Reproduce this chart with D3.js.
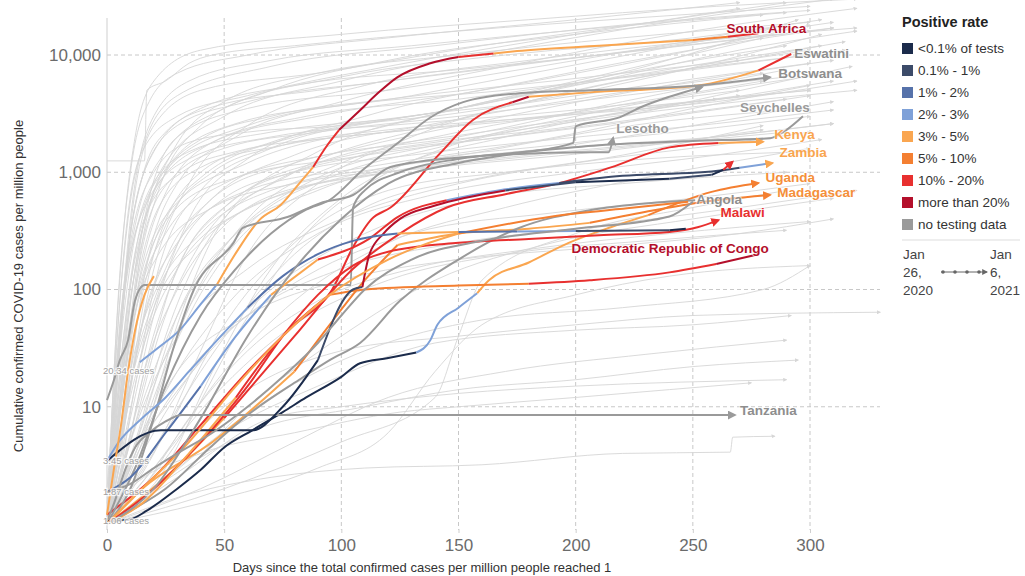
<!DOCTYPE html>
<html lang="en">
<head>
  <meta charset="UTF-8">
  <title>Cumulative confirmed COVID-19 cases per million people</title>
  <script src="https://d3js.org/d3.v7.min.js"></script>
  <style>
    body {
      margin: 0;
      background: #fff;
      font-family: "Liberation Sans", Arial, sans-serif;
    }
    .tick text {
      font-family: "Liberation Sans", Arial, sans-serif;
    }
  </style>
</head>
<body>
  <svg id="chart" width="1025" height="576"></svg>

  <script>
    // ---- data ----
    const xTickValues = [0, 50, 100, 150, 200, 250, 300];
    const yTickValues = [10, 100, 1000, 10000];

    const rateLabels = ["<0.1% of tests", "0.1% - 1%", "1% - 2%", "2% - 3%", "3% - 5%",
                        "5% - 10%", "10% - 20%", "more than 20%", "no testing data"];
    const rateColors = ["#1b2b4b", "#3c4b69", "#5672aa", "#7fa1d8", "#faa650",
                        "#f47f31", "#e8302f", "#b40f2b", "#9a9a9a"];

    // starting values written at the left edge
    const startValues = [20.34, 3.45, 1.87, 1.06];

    // other countries, drawn light grey: [day, cases per million]
    const otherCountries = [
      [[0,1],[4,30],[8,300],[15,1500],[30,3000],[60,4500],[120,8000],[200,15000],[270,25000]],
      [[0,1],[6,20],[12,200],[25,1200],[50,3000],[100,6000],[180,12000],[260,22000],[310,30000]],
      [[0,1],[8,10],[15,100],[30,800],[55,2000],[100,4000],[170,8000],[250,16000],[320,25000]],
      [[0,1.5],[5,10],[12,150],[22,800],[45,1800],[90,3000],[160,5000],[240,10000],[300,18000]],
      [[0,1],[10,8],[20,60],[35,400],[60,1300],[110,3000],[180,6000],[260,12000],[310,17000]],
      [[0,1],[7,15],[14,120],[28,500],[60,1200],[120,2500],[200,6000],[280,14000]],
      [[0,1],[12,5],[25,40],[45,300],[80,1000],[140,2500],[220,6000],[300,11000]],
      [[0,1],[9,12],[20,200],[40,1000],[70,1800],[150,3500],[230,8000],[295,20000]],
      [[0,1],[15,5],[30,50],[50,400],[90,1500],[150,3500],[230,7000],[305,12000]],
      [[0,1],[5,5],[12,60],[25,300],[50,800],[100,1500],[170,3000],[250,6000],[310,9000]],
      [[0,1.2],[8,25],[16,400],[30,2000],[60,3500],[120,5000],[200,9000],[280,17000]],
      [[0,1],[20,4],[40,30],[60,200],[90,800],[130,2000],[200,5000],[270,9000],[315,13000]],
      [[0,1],[6,40],[11,500],[20,2500],[40,5000],[90,7000],[160,12000],[240,20000],[290,28000]],
      [[0,1],[10,20],[25,150],[45,600],[80,1200],[150,2000],[220,4000],[290,7500]],
      [[0,1],[3,8],[9,120],[18,700],[35,1500],[70,2200],[130,3000],[200,5500],[280,12000],[320,16000]],
      [[0,1],[12,15],[22,150],[40,700],[70,1600],[120,2800],[180,4000],[240,7000],[305,15000]],
      [[0,1],[25,3],[45,20],[70,150],[100,600],[140,1500],[200,3000],[260,5000],[310,7000]],
      [[0,1],[7,6],[15,50],[30,250],[60,700],[110,1100],[180,1800],[250,3500],[300,5500]],
      [[0,2],[5,30],[10,250],[20,1000],[35,1800],[60,2200],[100,2500],[150,3500],[220,7000],[290,12000]],
      [[0,1250],[16,1250],[17,5000],[25,6000],[35,8500],[45,10000],[80,12000],[150,16000],[230,21000],[300,26000]],
      [[0,1],[5,100],[10,1000],[18,4000],[30,7000],[60,10000],[120,14000],[200,20000],[270,28000]],
      [[0,1],[4,15],[10,300],[20,1500],[40,3500],[80,5500],[150,7500],[230,11000],[300,16000]],
      [[0,1],[13,10],[28,120],[50,500],[85,1100],[140,1800],[200,2500],[260,4500],[318,8000]],
      [[0,1],[18,8],[35,70],[60,400],[100,1200],[150,2200],[210,3500],[280,6000]],
      [[0,1],[30,5],[55,40],[85,300],[120,1000],[170,2000],[230,3500],[300,5000]],
      [[0,1],[20,3],[50,20],[80,80],[120,250],[170,500],[230,900],[300,1600]],
      [[0,1],[15,4],[40,25],[70,100],[110,300],[160,600],[220,800],[290,1000]],
      [[0,1],[25,2],[60,10],[100,40],[140,120],[190,250],[250,400],[310,600]],
      [[0,1],[10,3],[30,15],[60,60],[100,150],[150,250],[210,350],[270,500],[320,700]],
      [[0,1],[30,3],[70,12],[110,30],[160,55],[220,70],[280,100],[300,160]],
      [[0,1],[20,2],[50,6],[90,15],[140,35],[200,45],[250,50],[292,60]],
      [[0,1],[40,2],[80,5],[120,12],[170,20],[230,28],[290,37]],
      [[0,1],[35,1.8],[70,2.5],[110,3],[160,3.2],[220,4],[266,4.1],[267,5.5],[285,5.6]],
      [[0,1],[20,2],[60,6],[110,10],[150,14],[200,17],[250,22],[295,25]],
      [[0,1],[30,2.5],[70,8],[100,10],[150,13],[200,15],[290,17]],
      [[0,1],[20,2.5],[50,10],[100,30],[150,40],[200,50],[250,60],[330,64]],
      [[0,1],[10,5],[30,40],[60,150],[100,400],[150,800],[200,1200],[260,1700],[300,2200]],
      [[0,1],[15,3],[40,20],[80,200],[110,500],[160,900],[220,1400],[280,2500]],
      [[0,1],[50,2],[100,5],[140,12],[150,40],[160,120],[200,300],[250,500],[290,700]],
      [[0,1],[40,1.5],[90,3],[120,6],[140,20],[160,50],[200,90],[240,130],[300,160]],
      [[0,1],[10,2],[40,4],[80,6],[125,9],[150,10],[200,12],[240,14],[275,16]],
      [[0,1],[25,6],[50,50],[80,250],[120,700],[170,1000],[230,1300],[300,1500]],
      [[0,1],[8,10],[20,70],[40,250],[70,600],[120,1000],[180,1500],[250,2500],[310,4000]],
      [[0,1],[12,7],[30,60],[55,300],[90,900],[140,1700],[200,2700],[270,4000],[320,5000]],
      [[0,1],[5,4],[15,30],[30,150],[60,500],[100,900],[160,1500],[230,2600],[300,3500]],
      [[0,1],[3,10],[7,80],[14,400],[28,1200],[60,2500],[130,4500],[210,9000],[290,18000]],
      [[0,1],[5,8],[11,50],[20,250],[40,900],[80,2000],[150,3200],[230,5500],[300,8500]],
      [[0,1],[6,5],[14,40],[26,200],[45,600],[80,1400],[140,2600],[210,4500],[280,7000]],
      [[0,1],[4,20],[9,150],[18,600],[35,1300],[70,2000],[130,2600],[200,3400],[270,5000]],
      [[0,1],[8,4],[18,30],[32,180],[55,600],[95,1300],[160,2200],[240,3600],[310,6000]],
      [[0,1],[2,5],[6,60],[12,350],[25,1500],[50,3500],[100,6500],[170,10000],[250,14000],[305,20000]],
      [[0,1],[10,5],[22,40],[40,250],[70,800],[110,1400],[170,2000],[240,3000],[300,4500]],
      [[0,1],[14,6],[30,60],[55,300],[90,700],[130,1200],[190,1700],[260,2400],[300,3000]],
      [[0,1],[5,3],[10,15],[20,80],[40,300],[70,700],[120,1100],[190,1600],[260,2000],[310,2600]],
      [[0,1],[3,4],[8,30],[16,150],[30,500],[55,900],[100,1300],[160,1900],[230,2900],[290,4200]],
      [[0,1],[9,3],[20,15],[38,90],[60,350],[95,900],[140,1600],[200,2800],[270,4500]],
      [[0,1],[4,6],[10,40],[22,200],[45,500],[80,800],[140,1100],[210,1500],[280,2300]],
      [[0,1],[6,10],[13,100],[24,600],[45,1800],[85,3000],[150,4200],[220,6500],[300,10000]],
      [[0,1],[3,12],[8,150],[15,900],[30,2500],[60,4000],[120,6000],[190,9000],[260,13000],[310,17000]],
      [[0,1],[7,3],[16,20],[30,100],[50,350],[80,700],[120,1000],[170,1300],[230,1700],[290,2200]],
      [[0,1],[2,8],[5,60],[9,400],[16,1800],[30,4500],[70,8000],[140,12000],[220,18000],[300,24000]],
      [[0,1],[4,6],[9,60],[16,300],[28,900],[50,1600],[90,2200],[150,3000],[220,4500],[290,6500]],
      [[0,1],[3,3],[7,20],[13,120],[22,500],[40,1100],[75,1700],[130,2300],[200,3200],[260,4200]],
      [[0,1],[5,15],[10,120],[18,500],[32,1000],[55,1500],[100,2000],[170,2700],[240,3800],[300,5000]],
      [[0,1],[2,3],[5,25],[9,200],[15,900],[25,2200],[45,3600],[90,5000],[160,7500],[240,12000],[310,19000]],
      [[0,1],[6,3],[12,15],[20,70],[32,250],[50,600],[80,1000],[130,1400],[190,1900],[260,2600],[310,3400]],
      [[0,1],[3,5],[8,40],[14,250],[24,900],[40,1900],[70,3000],[120,4200],[190,6000],[270,9000]],
      [[0,1],[10,3],[20,12],[35,60],[55,250],[80,600],[120,1000],[180,1400],[250,1900],[310,2600]],
      [[0,1],[4,10],[9,80],[17,450],[30,1400],[55,2600],[100,3700],[170,5000],[250,7500],[315,11000]],
      [[0,1],[7,8],[14,70],[25,350],[45,1000],[75,1700],[120,2300],[190,3000],[260,4000],[320,6000]],
      [[0,1],[3,20],[7,300],[12,2000],[20,6000],[40,11000],[100,15000],[180,20000],[260,26000],[320,30000]],
      [[0,1],[5,30],[10,400],[18,2500],[35,6000],[70,9000],[130,12000],[210,17000],[290,23000]],
      [[0,1],[8,20],[15,250],[28,1500],[50,4000],[90,7000],[150,10000],[220,14000],[300,19000]],
      [[0,1],[10,15],[20,150],[35,800],[60,2500],[110,5500],[180,9000],[250,13000],[320,17000]],
      [[0,1],[6,10],[12,100],[22,700],[40,2500],[70,5000],[120,9000],[200,15000],[280,22000]],
      [[0,1],[15,2],[35,8],[60,30],[90,80],[130,150],[180,220],[240,300],[300,380]],
      [[0,1],[20,3],[45,12],[80,50],[120,120],[170,200],[230,260],[290,320]],
      [[0,1],[8,3],[25,10],[50,40],[85,130],[130,300],[190,450],[250,600],[300,800]],
      [[0,1],[12,4],[30,20],[55,90],[90,300],[140,650],[200,1000],[260,1400],[305,1900]],
      [[0,1],[5,2],[15,6],[30,20],[60,60],[100,120],[150,180],[210,230],[270,300],[310,400]]
    ];

    // highlighted countries: [day, cases per million, positive-rate class]
    const countryNames = ["South Africa", "Eswatini", "Botswana", "Seychelles", "Lesotho",
                          "Kenya", "Zambia", "Uganda", "Madagascar", "Angola", "Malawi",
                          "Democratic Republic of Congo", "Tanzania",
                          "", "", "", "", "", ""];
    const countrySeries = [
      [[14,24,3],[22,32,3],[31,45,3],[40,75,3],[47,111,4],[56,220,4],[65,391,4],[74,524,4],[82,800,4],[88,1110,6],[94,1700,6],[99,2290,7],[108,3380,7],[116,4800,7],[124,6470,7],[138,8500,7],[150,9600,6],[165,10300,4],[175,10800,4],[210,12000,4],[250,13400,5],[265,14300,6],[278,15300,7]],
      [[0,1.2,6],[20,2.5,6],[40,7,6],[60,20,6],[80,50,6],[96,99,6],[105,230,6],[113,400,6],[121,500,6],[142,1440,6],[156,2780,6],[173,3950,7],[180,4400,4],[206,4800,4],[253,5530,4],[278,7400,6],[292,10200,7]],
      [[0,1,8],[12,3,8],[25,15,8],[40,60,8],[55,150,8],[70,300,8],[85,480,8],[95,580,8],[109,1040,8],[124,1770,8],[138,2930,8],[152,3960,8],[175,4700,8],[206,5010,8],[254,5530,8],[283,6470,8]],
      [[0,11.4,8],[3,17,8],[5.5,25,8],[9,37,8],[12,81,8],[16,109,8],[104,109,8],[105,500,8],[110,700,8],[125,1000,8],[150,1300,8],[180,1500,8],[210,1700,8],[250,1850,8],[283,1950,8],[290,2300,8],[297,3000,8]],
      [[0,1,8],[10,2,8],[20,8,8],[28,30,8],[37,99,8],[54,250,8],[58,335,8],[77,415,8],[91,545,8],[105,640,8],[121,1110,8],[152,1340,8],[206,1480,8],[214,1480,8],[216,1970,8]],
      [[0,1,4],[25,2.5,4],[50,8,6],[80,40,6],[105,150,6],[125,300,6],[145,500,6],[170,650,6],[193,808,6],[215,1100,6],[240,1630,6],[261,1780,4],[280,1820,4]],
      [[0,1.87,2],[10,2.5,2],[25,6,2],[40,15,3],[55,40,3],[70,90,4],[90,180,6],[112,272,6],[124,415,6],[145,578,3],[167,700,3],[193,808,1],[213,905,1],[263,1040,1],[270,1090,3],[284,1200,4]],
      [[0,1.06,0],[10,1.1,0],[17,1.3,0],[30,2,0],[40,2.9,0],[50,4.5,0],[62,6.3,0],[75,9,0],[85,12,0],[100,18,0],[108,23.5,0],[120,26,0],[132,29,3],[138,37,3],[141,50,3],[150,70,3],[158,93,4],[163,120,4],[180,170,4],[197,250,4],[215,340,4],[231,431,5],[258,680,5],[278,810,5]],
      [[0,1,4],[15,2,4],[45,5,4],[80,20,5],[95,50,5],[110,120,5],[124,240,4],[150,300,4],[180,330,4],[206,370,5],[230,460,5],[255,560,5],[283,640,5]],
      [[0,1,8],[10,1.3,8],[25,2,8],[44,4.5,8],[61,8.8,8],[82,17,8],[95,25,8],[108,35,8],[125,80,8],[150,180,8],[175,330,8],[206,475,8],[231,545,8],[251,578,8]],
      [[0,1,6],[20,2,6],[40,5,6],[60,15,6],[75,40,6],[90,90,6],[105,160,6],[120,210,6],[150,250,6],[180,270,6],[210,290,6],[240,310,6],[252,340,6],[261,391,6]],
      [[0,1,4],[15,1.5,4],[35,4,4],[55,12,6],[75,40,6],[95,90,5],[110,100,5],[150,108,5],[180,112,6],[206,120,6],[240,140,6],[260,165,7],[278,200,7]],
      [[0,1.06,8],[3,1.5,8],[8,3,8],[12,4.5,8],[18,6,8],[25,7.5,8],[32,8.5,8],[268,8.5,8]],
      [[0,3.45,0],[23,6.3,0],[62,6.3,0],[75,10,0],[90,25,1],[105,100,1],[109,105,7],[112,200,7],[118,300,7],[125,400,7],[140,520,7],[170,700,1],[200,820,0],[240,880,1],[258,950,0],[263,1050,6],[267,1230,6]],
      [[0,1,4],[15,2,4],[35,5,4],[55,15,4],[75,40,4],[95,90,4],[120,180,4],[150,300,5],[190,420,5],[225,500,5],[248,560,5]],
      [[0,3.45,3],[5,5,3],[15,8,3],[25,12,3],[35,20,3],[47,37,3],[60,70,2],[75,130,2],[90,200,2],[105,260,2],[124,300,4],[150,310,2],[175,312,3],[200,315,1],[240,320,0],[247,330,0]],
      [[0,1.2,4],[3,3,4],[6,7,4],[9,20,4],[12,45,4],[16,90,4],[20,130,5]],
      [[0,1,8],[20,2,8],[40,8,8],[60,40,8],[80,150,8],[100,400,8],[120,800,8],[150,1200,8],[175,1450,8],[199,1780,8],[200,2460,8],[219,2950,8],[228,3600,8],[240,4400,8],[254,5340,8]],
      [[0,1.87,8],[10,2.2,8],[20,3,8],[30,4,8],[45,6,8],[60,10,8],[75,18,8],[90,35,8],[100,60,8],[110,100,8],[130,180,8],[160,260,8],[200,330,8],[240,420,8],[250,560,8]]
    ];
    const labelColors = ["#b40f2b", "#8e8e8e", "#8e8e8e", "#9a9a9a", "#9a9a9a",
                         "#f9a54f", "#f9a54f", "#f58f3a", "#f58f3a", "#8e8e8e", "#e8302f",
                         "#b40f2b", "#8e8e8e"];

    // ---- layout ----
    const labelOffset = {
      "South Africa": [-32, 0], "Eswatini": [3, 4], "Botswana": [8, 1], "Seychelles": [-63, -4],
      "Lesotho": [3, -5], "Kenya": [11, -3], "Zambia": [7, -6], "Uganda": [7, -1],
      "Madagascar": [7, 2], "Angola": [1, 4], "Malawi": [2, -3],
      "Democratic Republic of Congo": [-187, -1], "Tanzania": [5, 0]
    };
    // series drawn without an arrowhead at the end
    const noArrow = [0, 1, 3, 9, 11, 14, 15, 16, 18];

    const svg = d3.select("#chart");

    const x = d3.scaleLinear().domain([0, 300]).range([107, 810]);
    const y = d3.scaleLog().domain([1, 10000]).range([524, 55]);

    // arrow markers
    const defs = svg.append("defs");
    defs.append("marker")
        .attr("id", "arrow-bg")
        .attr("viewBox", "0 0 6 6")
        .attr("refX", 5).attr("refY", 3)
        .attr("markerWidth", 4).attr("markerHeight", 4)
        .attr("markerUnits", "userSpaceOnUse")
        .attr("orient", "auto")
        .append("path").attr("d", "M0,0L6,3L0,6z").attr("fill", "#d6d6d6");
    rateColors.forEach((c, i) => {
      defs.append("marker")
          .attr("id", "arrow-" + i)
          .attr("viewBox", "0 0 10 10")
          .attr("refX", 8).attr("refY", 5)
          .attr("markerWidth", 9).attr("markerHeight", 9)
          .attr("markerUnits", "userSpaceOnUse")
          .attr("orient", "auto")
          .append("path").attr("d", "M0,0L10,5L0,10z").attr("fill", c);
    });
    defs.append("marker")
        .attr("id", "arrow-legend")
        .attr("viewBox", "0 0 10 10")
        .attr("refX", 8).attr("refY", 5)
        .attr("markerWidth", 6).attr("markerHeight", 6)
        .attr("markerUnits", "userSpaceOnUse")
        .attr("orient", "auto")
        .append("path").attr("d", "M0,0L10,5L0,10z").attr("fill", "#666");

    // grid
    const grid = svg.append("g");
    grid.selectAll(".hgrid")
        .data(yTickValues)
        .enter().append("line")
        .attr("x1", 107).attr("x2", 880)
        .attr("y1", d => y(d)).attr("y2", d => y(d))
        .attr("stroke", "#c8c8c8")
        .attr("stroke-dasharray", "4,3");
    grid.selectAll(".vgrid")
        .data(xTickValues.slice(1))
        .enter().append("line")
        .attr("x1", d => x(d)).attr("x2", d => x(d))
        .attr("y1", 18).attr("y2", 530)
        .attr("stroke", "#c8c8c8")
        .attr("stroke-dasharray", "4,3");
    grid.append("line")
        .attr("x1", 107).attr("x2", 107)
        .attr("y1", 18).attr("y2", 530)
        .attr("stroke", "#cfcfcf");

    const line = d3.line()
                   .x(d => x(d[0]))
                   .y(d => y(d[1]))
                   .curve(d3.curveMonotoneX);

    // other countries
    svg.append("g")
       .selectAll("path")
       .data(otherCountries)
       .enter().append("path")
       .attr("d", line)
       .attr("fill", "none")
       .attr("stroke", "#d6d6d6")
       .attr("stroke-width", 0.9)
       .attr("marker-end", "url(#arrow-bg)");

    // highlighted countries, split into runs of the same positive-rate class
    const hl = svg.append("g");
    countrySeries.forEach((pts, k) => {
      const runs = [];
      let cur = [pts[0]];
      for (let i = 1; i < pts.length; i++) {
        cur.push(pts[i]);
        if (pts[i][2] !== cur[0][2] || i === pts.length - 1) {
          runs.push({cat: cur[0][2], pts: cur});
          cur = [pts[i]];
        }
      }
      const lastRun = runs.length - 1;
      runs.forEach((r, j) => {
        const p = hl.append("path")
          .attr("d", line(r.pts))
          .attr("fill", "none")
          .attr("stroke", rateColors[r.cat])
          .attr("stroke-width", 2)
          .attr("stroke-linejoin", "round");
        if (j === lastRun && !noArrow.includes(k)) {
          p.attr("marker-end", "url(#arrow-" + pts[pts.length - 1][2] + ")");
        }
      });
    });

    // country labels
    countryNames.forEach((name, k) => {
      if (!name) return;
      const last = countrySeries[k][countrySeries[k].length - 1];
      const off = labelOffset[name];
      svg.append("text")
         .attr("x", x(last[0]) + off[0])
         .attr("y", y(last[1]) + off[1])
         .attr("fill", labelColors[k])
         .attr("font-size", "13.5px")
         .attr("font-weight", "bold")
         .attr("stroke", "#fff")
         .attr("stroke-width", 2)
         .attr("stroke-opacity", 0.6)
         .attr("paint-order", "stroke")
         .text(name);
    });

    // start value notes
    svg.selectAll(".start")
       .data(startValues)
       .enter().append("text")
       .attr("x", 103)
       .attr("y", d => y(d) + 3)
       .attr("font-size", "9.5px")
       .attr("fill", "#a0a0a0")
       .attr("stroke", "#fff")
       .attr("stroke-width", 2.5)
       .attr("stroke-opacity", 0.8)
       .attr("paint-order", "stroke")
       .text(d => d + " cases");

    // axes
    const yAxis = svg.append("g")
       .attr("transform", "translate(107,0)")
       .call(d3.axisLeft(y).tickValues(yTickValues).tickFormat(d3.format(",")).tickSize(0).tickPadding(6));
    yAxis.select(".domain").remove();
    yAxis.selectAll("text").attr("font-size", "17px").attr("fill", "#6b6b6b");

    const xAxis = svg.append("g")
       .attr("transform", "translate(0,529)")
       .call(d3.axisBottom(x).tickValues(xTickValues).tickSize(4).tickPadding(6));
    xAxis.select(".domain").remove();
    xAxis.selectAll("line").attr("stroke", "#cfcfcf");
    xAxis.selectAll("text").attr("font-size", "17px").attr("fill", "#6b6b6b");

    svg.append("text")
       .attr("x", 422).attr("y", 572)
       .attr("text-anchor", "middle")
       .attr("font-size", "13px")
       .attr("fill", "#333")
       .text("Days since the total confirmed cases per million people reached 1");

    svg.append("text")
       .attr("transform", "translate(23,286) rotate(-90)")
       .attr("text-anchor", "middle")
       .attr("font-size", "13px")
       .attr("fill", "#333")
       .text("Cumulative confirmed COVID-19 cases per million people");

    // legend
    const legend = svg.append("g").attr("transform", "translate(902,0)");
    legend.append("text")
          .attr("x", 0).attr("y", 27)
          .attr("font-size", "14.5px")
          .attr("font-weight", "bold")
          .attr("fill", "#222")
          .text("Positive rate");
    const item = legend.selectAll(".item")
          .data(rateLabels)
          .enter().append("g")
          .attr("transform", (d, i) => `translate(0,${48 + i * 22})`);
    item.append("rect")
        .attr("x", 0).attr("y", -5)
        .attr("width", 11).attr("height", 11)
        .attr("fill", (d, i) => rateColors[i]);
    item.append("text")
        .attr("x", 16).attr("y", 5)
        .attr("font-size", "13.5px")
        .attr("fill", "#333")
        .text(d => d);

    legend.append("line")
          .attr("x1", 0).attr("x2", 118)
          .attr("y1", 240).attr("y2", 240)
          .attr("stroke", "#ddd");

    const dateLeft = ["Jan", "26,", "2020"];
    const dateRight = ["Jan", "6,", "2021"];
    legend.selectAll(".dl")
          .data(dateLeft).enter().append("text")
          .attr("x", 1).attr("y", (d, i) => 259 + i * 18)
          .attr("font-size", "13.5px").attr("fill", "#444")
          .text(d => d);
    legend.selectAll(".dr")
          .data(dateRight).enter().append("text")
          .attr("x", 88).attr("y", (d, i) => 259 + i * 18)
          .attr("font-size", "13.5px").attr("fill", "#444")
          .text(d => d);
    legend.append("line")
          .attr("x1", 39).attr("x2", 85)
          .attr("y1", 272).attr("y2", 272)
          .attr("stroke", "#666").attr("stroke-width", 1)
          .attr("marker-end", "url(#arrow-legend)");
    legend.selectAll(".dot")
          .data([0, 1, 2, 3])
          .enter().append("circle")
          .attr("cx", d => 41 + d * 12).attr("cy", 272)
          .attr("r", 1.8).attr("fill", "#666");
  </script>
</body>
</html>
